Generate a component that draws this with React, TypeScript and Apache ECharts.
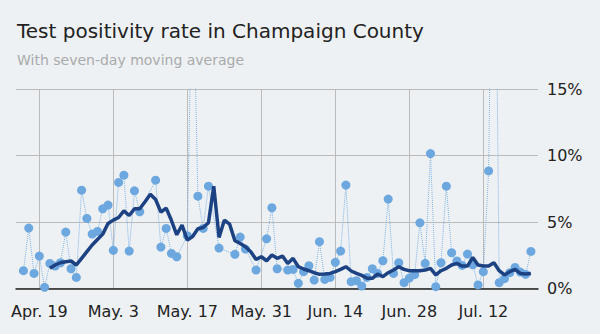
import React, { useEffect, useRef } from "react";
import * as echarts from "echarts";

// Day offsets are counted from Apr. 19; the first observation is Apr. 16 (offset -3)
const firstDayOffset = -3;

const tickDays = [0, 14, 28, 42, 56, 70, 84];
const tickLabels = ["Apr. 19", "May. 3", "May. 17", "May. 31", "Jun. 14", "Jun. 28", "Jul. 12"];
const yTicks = [0, 5, 10, 15];

// Daily test positivity (%), Apr. 16 .. Jul. 21
const dailyRate: (number | null)[] = [
  1.35, 4.55, 1.15, 2.45, 0.1, 1.9, 1.7, 1.95, 4.25, 1.5,
  0.85, 7.4, 5.28, 4.1, 4.3, 6.0, 6.28, 2.88, 7.98, 8.53,
  2.83, 7.35, 5.78, null, null, 8.15, 3.13, 4.53, 2.65, 2.4,
  null, 3.98, 26, 6.95, 4.53, 7.7, null, 3.05, null, null,
  2.58, 3.88, 2.98, null, 1.4, null, 3.75, 6.08, 1.5, null,
  1.4, 1.45, 0.4, 1.28, 1.73, 0.65, 3.53, 0.7, 0.85, 1.98,
  2.83, 7.78, 0.53, 0.6, 0.2, 0.85, 1.5, 1.15, 2.1, 6.73,
  1.15, 1.95, 0.45, 0.8, 1.05, 4.95, 1.9, 10.15, 0.15, 1.95,
  7.7, 2.7, 2.08, 1.75, 2.6, 1.8, 0.28, 1.28, 8.85, 40,
  0.45, 0.75, 1.2, 1.6, 1.25, 1.08, 2.8,
];

// Seven-day moving average (%), same days
const movingAvg: (number | null)[] = [
  null, null, null, null, null, 1.53, 1.78, 1.95, 2.03, 2.08,
  1.78, 2.28, 2.78, 3.28, 3.7, 4.1, 4.9, 5.15, 5.35, 5.85,
  5.5, 6.0, 6.0, 6.53, 7.1, 6.7, 5.75, 6.05, 5.12, 4.05,
  4.78, 3.65, 3.92, 4.5, 4.6, 4.95, 7.7, 3.85, 5.15, 4.85,
  3.6, 3.4, 3.15, 2.78, 2.2, 2.4, 2.1, 2.53, 2.28, 2.45,
  1.9, 2.28, 1.65, 1.48, 1.35, 1.2, 1.08, 1.1, 1.15, 1.28,
  1.45, 1.65, 1.33, 1.15, 1.0, 0.78, 0.78, 1.1, 0.9, 1.2,
  1.4, 1.65, 1.45, 1.35, 1.35, 1.35, 1.4, 1.53, 1.03, 1.35,
  1.53, 1.78, 1.9, 1.7, 1.7, 2.35, 1.78, 1.7, 1.7, 1.95,
  1.35, 1.03, 1.28, 1.45, 1.15, 1.1, 1.15,
];

const FONT = "DejaVu Sans";

export default function App() {
  const ref = useRef<HTMLDivElement>(null);

  useEffect(() => {
    if (!ref.current) return;
    const chart = echarts.init(ref.current, null, { renderer: "svg" });
    const toPairs = (arr: (number | null)[]) =>
      arr.map((v, i) => [firstDayOffset + i, v]);

    chart.setOption({
      animation: false,
      backgroundColor: "#eef1f3",
      title: [
        {
          text: "Test positivity rate in Champaign County",
          left: 17,
          top: 21,
          padding: 0,
          textStyle: { fontFamily: FONT, fontSize: 20, fontWeight: "normal", color: "#222" },
        },
        {
          text: "With seven-day moving average",
          left: 17,
          top: 53,
          padding: 0,
          textStyle: { fontFamily: FONT, fontSize: 14, fontWeight: "normal", color: "#a9abad" },
        },
      ],
      grid: { left: 16, right: 62, top: 89, bottom: 45.3, containLabel: false },
      xAxis: {
        type: "value",
        min: -4.41,
        max: 94.34,
        axisLine: { show: true, onZero: false, lineStyle: { color: "#222", width: 1.5 } },
        axisTick: { show: false, customValues: tickDays },
        axisLabel: {
          customValues: tickDays,
          formatter: (v: number) => tickLabels[tickDays.indexOf(Math.round(v))] ?? "",
          fontFamily: FONT,
          fontSize: 16,
          color: "#222",
          margin: 15,
        },
        splitLine: { show: true, lineStyle: { color: "#bbbbbb", width: 1 } },
      },
      yAxis: {
        type: "value",
        position: "right",
        min: 0,
        max: 15,
        interval: 5,
        axisLine: { show: false },
        axisTick: { show: false },
        axisLabel: {
          formatter: (v: number) => (yTicks.includes(v) ? v + "%" : ""),
          fontFamily: FONT,
          fontSize: 16,
          color: "#222",
          margin: 9,
        },
        splitLine: { show: true, lineStyle: { color: "#bbbbbb", width: 1 } },
      },
      series: [
        {
          type: "line",
          data: toPairs(dailyRate),
          connectNulls: true,
          symbol: "circle",
          symbolSize: 9,
          showSymbol: true,
          itemStyle: { color: "#6ca7df" },
          lineStyle: { type: "dotted", width: 1, color: "#7fb3e6" },
          z: 2,
        },
        {
          type: "line",
          data: toPairs(movingAvg),
          symbol: "none",
          lineStyle: { width: 3.5, color: "#1d4283" },
          z: 3,
        },
      ],
    });
    return () => chart.dispose();
  }, []);

  return (
    <div
      ref={ref}
      style={{ position: "absolute", left: 0, top: 0, width: 600, height: 334 }}
    />
  );
}
